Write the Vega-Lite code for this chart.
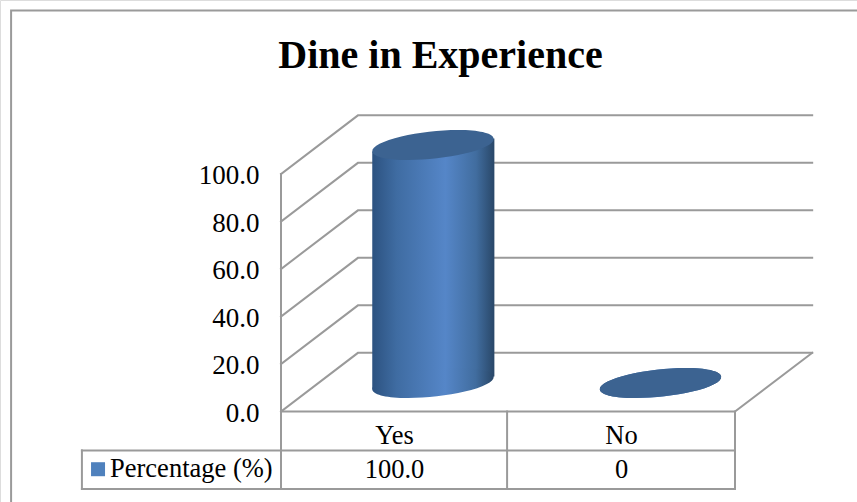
{
  "$schema": "https://vega.github.io/schema/vega-lite/v6.json",
  "width": 857,
  "height": 502,
  "padding": 0,
  "autosize": {"type": "none"},
  "background": "white",
  "title": {
    "text": "Dine in Experience",
    "font": "Liberation Serif",
    "fontSize": 40,
    "fontWeight": "bold",
    "color": "#000000",
    "anchor": "middle",
    "frame": "group",
    "baseline": "alphabetic",
    "offset": -108,
    "dx": 12
  },
  "datasets": {
    "cylinders": [
      {"category": "Yes", "value": 100},
      {"category": "No", "value": 0}
    ],
    "edges": [
      {"category": "Yes", "value": 100, "edge": 0.402, "tilt": -2.7},
      {"category": "Yes", "value": 100, "edge": 0.94, "tilt": 2.7},
      {"category": "No", "value": 0, "edge": 1.402, "tilt": -2.7},
      {"category": "No", "value": 0, "edge": 1.94, "tilt": 2.7}
    ],
    "frame": [
      {"line": "border", "order": 1, "u": -1.189, "level": -38.3},
      {"line": "border", "order": 2, "u": -1.189, "level": 168.8},
      {"line": "border", "order": 3, "u": 2.54, "level": 168.8},
      {"line": "wall0", "order": 1, "u": 0, "level": 0},
      {"line": "wall0", "order": 2, "u": 0.339, "level": 24.7},
      {"line": "wall0", "order": 3, "u": 2.34, "level": 24.7},
      {"line": "wall20", "order": 1, "u": 0, "level": 20},
      {"line": "wall20", "order": 2, "u": 0.339, "level": 44.7},
      {"line": "wall20", "order": 3, "u": 2.34, "level": 44.7},
      {"line": "wall40", "order": 1, "u": 0, "level": 40},
      {"line": "wall40", "order": 2, "u": 0.339, "level": 64.7},
      {"line": "wall40", "order": 3, "u": 2.34, "level": 64.7},
      {"line": "wall60", "order": 1, "u": 0, "level": 60},
      {"line": "wall60", "order": 2, "u": 0.339, "level": 84.7},
      {"line": "wall60", "order": 3, "u": 2.34, "level": 84.7},
      {"line": "wall80", "order": 1, "u": 0, "level": 80},
      {"line": "wall80", "order": 2, "u": 0.339, "level": 104.7},
      {"line": "wall80", "order": 3, "u": 2.34, "level": 104.7},
      {"line": "wall100", "order": 1, "u": 0, "level": 100},
      {"line": "wall100", "order": 2, "u": 0.339, "level": 124.7},
      {"line": "wall100", "order": 3, "u": 2.34, "level": 124.7},
      {"line": "spine", "order": 1, "u": 0, "level": 100},
      {"line": "spine", "order": 2, "u": 0, "level": -32.6},
      {"line": "floor", "order": 1, "u": 0, "level": 0},
      {"line": "floor", "order": 2, "u": 2, "level": 0},
      {"line": "floor", "order": 3, "u": 2.34, "level": 24.7},
      {"line": "tableTop", "order": 1, "u": -0.877, "level": -16.4},
      {"line": "tableTop", "order": 2, "u": 2, "level": -16.4},
      {"line": "tableBottom", "order": 1, "u": -0.877, "level": -32.6},
      {"line": "tableBottom", "order": 2, "u": 2, "level": -32.6},
      {"line": "tableLeft", "order": 1, "u": -0.877, "level": -16.4},
      {"line": "tableLeft", "order": 2, "u": -0.877, "level": -32.6},
      {"line": "tableMiddle", "order": 1, "u": 0.996, "level": 0},
      {"line": "tableMiddle", "order": 2, "u": 0.996, "level": -32.6},
      {"line": "tableRight", "order": 1, "u": 2, "level": 0},
      {"line": "tableRight", "order": 2, "u": 2, "level": -32.6}
    ],
    "table": [
      {"u": 0.5, "level": -10.3, "label": "Yes"},
      {"u": 1.5, "level": -10.3, "label": "No"},
      {"u": 0.5, "level": -24.6, "label": "100.0"},
      {"u": 1.5, "level": -24.6, "label": "0"}
    ],
    "series": [
      {"u": -0.806, "level": -24.3, "label": "Percentage (%)"}
    ]
  },
  "resolve": {"scale": {"x": "independent", "y": "independent"}, "axis": {"y": "independent"}},
  "layer": [
    {
      "data": {"name": "frame"},
      "mark": {"type": "line", "color": "#9a9a9a", "strokeWidth": 2, "strokeCap": "square", "clip": false},
      "encoding": {
        "x": {"field": "u", "type": "quantitative", "axis": null,
              "scale": {"domain": [0, 2], "range": [281, 735], "nice": false, "zero": false}},
        "y": {"field": "level", "type": "quantitative",
              "scale": {"domain": [0, 100], "range": [411.5, 174], "nice": false, "zero": false},
              "axis": {"values": [0, 20, 40, 60, 80, 100], "format": ".1f", "title": null, "domain": false, "ticks": false, "grid": false,
                       "labelFont": "Liberation Serif", "labelFontSize": 27, "labelColor": "#000000",
                       "labelPadding": 0, "offset": -259, "labelBaseline": "middle", "labelOffset": 1.5}},
        "detail": {"field": "line"},
        "order": {"field": "order"}
      }
    },
    {
      "data": {"name": "edges"},
      "transform": [
        {"calculate": "datum.value + datum.tilt", "as": "top"},
        {"calculate": "datum.tilt", "as": "base"}
      ],
      "mark": {
        "type": "area",
        "fill": {
          "gradient": "linear", "x1": 0, "y1": 0, "x2": 1, "y2": 0,
          "stops": [
            {"offset": 0, "color": "#2c5280"},
            {"offset": 0.2, "color": "#3f6ca2"},
            {"offset": 0.6, "color": "#5586c8"},
            {"offset": 0.85, "color": "#416d9f"},
            {"offset": 1, "color": "#294768"}
          ]
        }
      },
      "encoding": {
        "x": {"field": "edge", "type": "quantitative", "axis": null,
              "scale": {"domain": [0, 2], "range": [281, 735], "nice": false, "zero": false}},
        "y": {"field": "top", "type": "quantitative", "axis": null, "stack": null,
              "scale": {"domain": [0, 100], "range": [383, 145], "nice": false, "zero": false}},
        "y2": {"field": "base"},
        "detail": {"field": "category"}
      }
    },
    {
      "data": {"name": "cylinders"},
      "mark": {
        "type": "point",
        "filled": true,
        "opacity": 1,
        "size": 14884,
        "shape": "M-0.9945,0.1045 A1,0.222 -6 1 1 0.9945,-0.1045 A1,0.222 -6 1 1 -0.9945,0.1045 Z",
        "fill": {
          "gradient": "linear", "x1": 0, "y1": 0, "x2": 1, "y2": 0,
          "stops": [
            {"offset": 0, "color": "#2c5280"},
            {"offset": 0.2, "color": "#3f6ca2"},
            {"offset": 0.6, "color": "#5586c8"},
            {"offset": 0.85, "color": "#416d9f"},
            {"offset": 1, "color": "#294768"}
          ]
        }
      },
      "encoding": {
        "x": {"field": "category", "type": "nominal", "axis": null, "sort": null,
              "scale": {"type": "point", "padding": 0, "domain": ["Yes", "No"], "range": [433, 660.5]}},
        "y": {"datum": 0, "type": "quantitative", "axis": null,
              "scale": {"domain": [0, 100], "range": [383, 145], "nice": false, "zero": false}}
      }
    },
    {
      "data": {"name": "cylinders"},
      "mark": {
        "type": "point",
        "filled": true,
        "opacity": 1,
        "size": 14884,
        "shape": "M-0.9945,0.1045 A1,0.222 -6 1 1 0.9945,-0.1045 A1,0.222 -6 1 1 -0.9945,0.1045 Z",
        "fill": "#3c6391"
      },
      "encoding": {
        "x": {"field": "category", "type": "nominal", "axis": null, "sort": null,
              "scale": {"type": "point", "padding": 0, "domain": ["Yes", "No"], "range": [433, 660.5]}},
        "y": {"field": "value", "type": "quantitative", "axis": null,
              "scale": {"domain": [0, 100], "range": [383, 145], "nice": false, "zero": false}}
      }
    },
    {
      "data": {"name": "table"},
      "mark": {"type": "text", "font": "Liberation Serif", "fontSize": 26.5, "color": "#000000", "align": "center", "baseline": "middle"},
      "encoding": {
        "x": {"field": "u", "type": "quantitative", "axis": null,
              "scale": {"domain": [0, 2], "range": [281, 735], "nice": false, "zero": false}},
        "y": {"field": "level", "type": "quantitative", "axis": null,
              "scale": {"domain": [0, 100], "range": [411.5, 174], "nice": false, "zero": false}},
        "text": {"field": "label"}
      }
    },
    {
      "data": {"name": "series"},
      "mark": {"type": "point", "shape": "square", "filled": true, "opacity": 1, "size": 196, "color": "#4f81bd"},
      "encoding": {
        "x": {"field": "u", "type": "quantitative", "axis": null,
              "scale": {"domain": [0, 2], "range": [281, 735], "nice": false, "zero": false}},
        "y": {"field": "level", "type": "quantitative", "axis": null,
              "scale": {"domain": [0, 100], "range": [411.5, 174], "nice": false, "zero": false}}
      }
    },
    {
      "data": {"name": "series"},
      "mark": {"type": "text", "font": "Liberation Serif", "fontSize": 26.5, "color": "#000000", "align": "left", "baseline": "middle", "dx": 12},
      "encoding": {
        "x": {"field": "u", "type": "quantitative", "axis": null,
              "scale": {"domain": [0, 2], "range": [281, 735], "nice": false, "zero": false}},
        "y": {"field": "level", "type": "quantitative", "axis": null,
              "scale": {"domain": [0, 100], "range": [411.5, 174], "nice": false, "zero": false}},
        "text": {"field": "label"}
      }
    }
  ]
}
